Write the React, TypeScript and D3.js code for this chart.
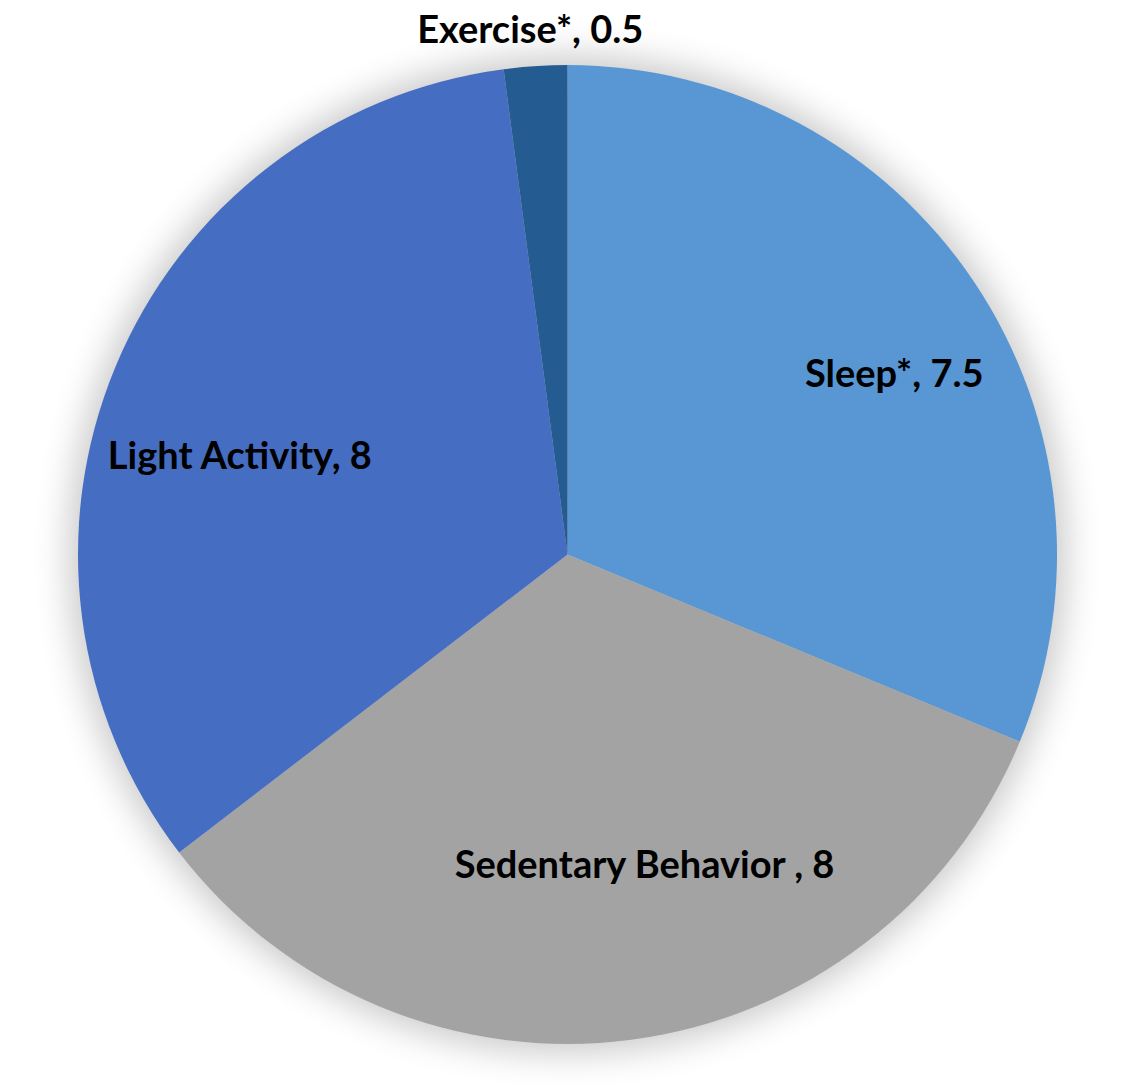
import React from "react";
import * as d3 from "d3";

const categories = ["Sleep*", "Sedentary Behavior ", "Light Activity", "Exercise*"];
const values = [7.5, 8, 8, 0.5];
const valueLabels = ["7.5", "8", "8", "0.5"];
const colors = ["#5897D4", "#A3A3A3", "#456EC3", "#245C91"];

// label placement: [radius fraction of pie radius, angular nudge in degrees]
const labelRadius = [0.765, 0.65, 0.7, 1.078];
const labelAngleNudge = [4.5, -6.5, -5.5, -0.3];

const W = 1124;
const H = 1091;
const CX = 567.5;
const CY = 554.5;
const R = 489.5;
const FONT = "Lato, 'Open Sans', sans-serif";
const FONT_SIZE = 38;

export default function App() {
  const pie = d3
    .pie<number>()
    .sort(null)
    .value((d) => d);
  const arcs = pie(values);
  const arc = d3.arc<d3.PieArcDatum<number>>().innerRadius(0).outerRadius(R);

  return (
    <svg
      width={W}
      height={H}
      style={{ position: "absolute", left: 0, top: 0, background: "#fff" }}
    >
      <defs>
        <filter id="glow" x="-20%" y="-20%" width="140%" height="140%">
          <feGaussianBlur stdDeviation="18" />
        </filter>
      </defs>
      <g transform={`translate(${CX},${CY})`}>
        <circle r={R + 8} fill="#000" opacity={0.22} filter="url(#glow)" />
        {arcs.map((a, i) => (
          <path key={i} d={arc(a) || ""} fill={colors[i]} />
        ))}
        {arcs.map((a, i) => {
          const mid = (a.startAngle + a.endAngle) / 2 + (labelAngleNudge[i] * Math.PI) / 180;
          const rr = R * labelRadius[i];
          const x = rr * Math.sin(mid);
          const y = -rr * Math.cos(mid);
          return (
            <text
              key={"t" + i}
              x={x}
              y={y}
              textAnchor="middle"
              dominantBaseline="central"
              fontFamily={FONT}
              fontWeight={700}
              fontSize={FONT_SIZE}
              fill="#000"
            >
              {`${categories[i]}, ${valueLabels[i]}`}
            </text>
          );
        })}
      </g>
    </svg>
  );
}
